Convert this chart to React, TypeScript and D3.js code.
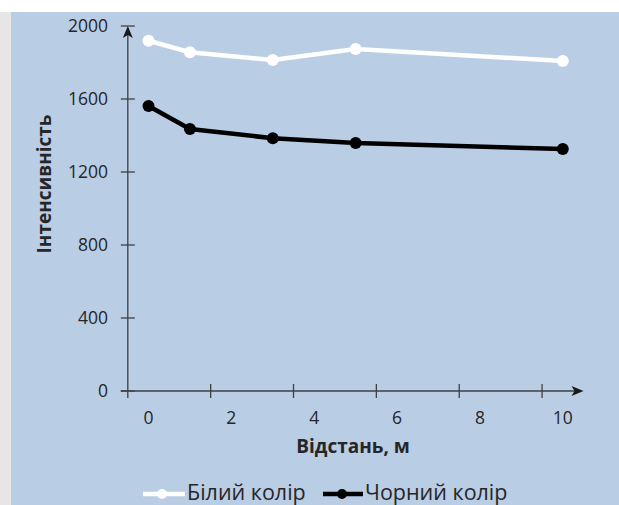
import React from "react";
import * as d3 from "d3";

// Distance, m
const distances = [0, 1, 3, 5, 10];
// Intensity of the white and black targets
const whiteValues = [1919, 1856, 1814, 1874, 1808];
const blackValues = [1562, 1436, 1385, 1359, 1326];
const xTickLabels = [0, 2, 4, 6, 8, 10];
const yTickLabels = [0, 400, 800, 1200, 1600, 2000];
const seriesNames = ["Білий колір", "Чорний колір"];

const W = 619;
const H = 505;
const FONT = "'Open Sans', 'Noto Sans', sans-serif";
const AXIS = "#404040";
const TEXT = "#262626";

export default function App() {
  const x = d3.scaleLinear().domain([-0.5, 10.5]).range([127.8, 583.5]);
  const y = d3.scaleLinear().domain([0, 2000]).range([391, 26]);
  const line = d3
    .line<number>()
    .x((_, i) => x(distances[i]))
    .y((d) => y(d));

  const series = [
    { name: seriesNames[0], values: whiteValues, color: "#ffffff", legendX: 143, legendW: 42 },
    { name: seriesNames[1], values: blackValues, color: "#000000", legendX: 323, legendW: 40 },
  ];

  const x0 = x(-0.5);
  const xEnd = x(10.5);
  const yTop = y(2000);

  return (
    <svg
      width={W}
      height={H}
      style={{ position: "absolute", left: 0, top: 0 }}
      fontFamily={FONT}
    >
      <rect x={0} y={0} width={W} height={H} fill="#ffffff" />
      <rect x={0} y={12} width={11} height={H - 12} fill="#e6e6e6" />
      <rect x={11} y={12} width={W - 11} height={H - 12} fill="#b9cde5" />

      {/* Y axis with arrow */}
      <line x1={x0} x2={x0} y1={y(0) + 7} y2={yTop + 2} stroke={AXIS} strokeWidth={1.3} />
      <path
        d={`M${x0},${yTop} L${x0 - 5},${yTop + 12} L${x0},${yTop + 9} L${x0 + 5},${yTop + 12} Z`}
        fill="#1a1a1a"
      />
      {yTickLabels.map((v) => (
        <g key={`y${v}`}>
          <line x1={x0 - 7} x2={x0 + 7} y1={y(v)} y2={y(v)} stroke={AXIS} strokeWidth={1.3} />
          <text
            x={108}
            y={y(v)}
            dy="0.35em"
            textAnchor="end"
            fontSize={17.5}
            fill={TEXT}
          >
            {v}
          </text>
        </g>
      ))}

      {/* X axis with arrow; tick marks sit half a unit before each label */}
      <line x1={x0 - 7} x2={xEnd - 4} y1={y(0)} y2={y(0)} stroke={AXIS} strokeWidth={1.3} />
      <path
        d={`M${xEnd},${y(0)} L${xEnd - 12},${y(0) - 5} L${xEnd - 9},${y(0)} L${xEnd - 12},${y(0) + 5} Z`}
        fill="#1a1a1a"
      />
      {xTickLabels.map((v) => (
        <g key={`x${v}`}>
          {v > 0 && (
            <line
              x1={x(v - 0.5)}
              x2={x(v - 0.5)}
              y1={y(0) - 7}
              y2={y(0) + 7}
              stroke={AXIS}
              strokeWidth={1.3}
            />
          )}
          <text x={x(v)} y={418} dy="0.35em" textAnchor="middle" fontSize={17.5} fill={TEXT}>
            {v}
          </text>
        </g>
      ))}

      <text
        transform={`translate(44,184) rotate(-90)`}
        textAnchor="middle"
        dy="0.35em"
        fontSize={19}
        fontWeight="bold"
        fill={TEXT}
      >
        Інтенсивність
      </text>
      <text x={353} y={446} dy="0.35em" textAnchor="middle" fontSize={19} fontWeight="bold" fill={TEXT}>
        Відстань, м
      </text>

      {/* Series */}
      {series.map((s) => (
        <g key={s.name}>
          <path d={line(s.values) ?? ""} fill="none" stroke={s.color} strokeWidth={4.5} strokeLinejoin="round" />
          {s.values.map((v, i) => (
            <circle key={i} cx={x(distances[i])} cy={y(v)} r={6} fill={s.color} />
          ))}
        </g>
      ))}

      {/* Legend along the lower edge */}
      {series.map((s, i) => (
        <g key={`leg${i}`}>
          <line
            x1={s.legendX}
            x2={s.legendX + s.legendW}
            y1={494}
            y2={494}
            stroke={s.color}
            strokeWidth={4.5}
          />
          <circle cx={s.legendX + 19} cy={494} r={5} fill={s.color} />
          <text x={s.legendX + s.legendW + 2} y={499.5} fontSize={21.5} fill={TEXT}>
            {s.name}
          </text>
        </g>
      ))}
    </svg>
  );
}
